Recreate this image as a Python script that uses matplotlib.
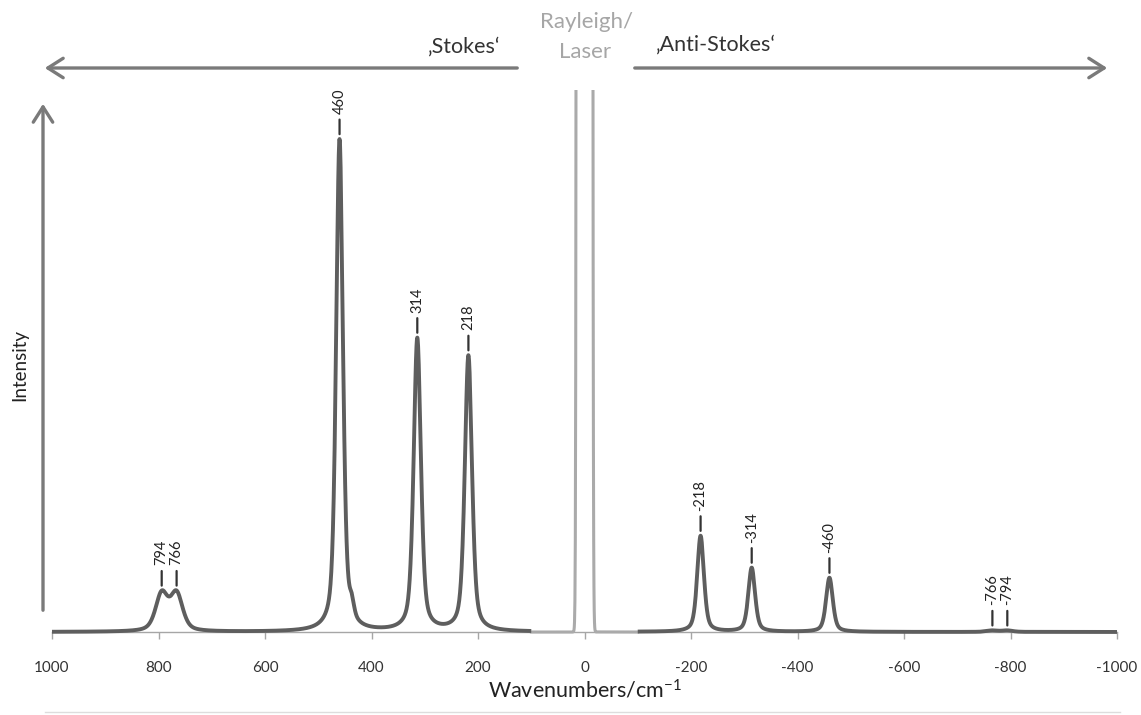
import numpy as np
import matplotlib
matplotlib.use("Agg")
import matplotlib.pyplot as plt
from matplotlib.patches import FancyArrowPatch, Rectangle
from matplotlib.lines import Line2D

plt.rcParams['font.family'] = ['Lato', 'DejaVu Sans']
plt.rcParams['mathtext.fontset'] = 'custom'
plt.rcParams['mathtext.rm'] = 'Lato'
plt.rcParams['mathtext.default'] = 'regular'
plt.rcParams['axes.unicode_minus'] = False

# ---------------- data ----------------
# Raman bands: position (cm-1), amplitude (460 band = 100), FWHM (cm-1)
stokes_pos = [794, 766, 460, 437, 314, 218]
stokes_amp = [7.5, 7.5, 100.0, 2.8, 59.5, 56.0]
stokes_fwhm = [27, 27, 15, 10, 16, 16]

anti_pos = [-218, -314, -460, -766, -794]
anti_amp = [19.5, 13.0, 11.0, 0.3, 0.3]
anti_fwhm = [15, 15, 15, 24, 24]

# Rayleigh / laser line (far off scale, clipped)
rayleigh_pos = [0]
rayleigh_amp = [4.0e6]
rayleigh_fwhm = [8.2]

label_pos = [794, 766, 460, 314, 218, -218, -314, -460, -766, -794]
label_text = ['794', '766', '460', '314', '218', '-218', '-314', '-460', '-766', '-794']

xtick_vals = [1000, 800, 600, 400, 200, 0, -200, -400, -600, -800, -1000]
xtick_text = ['1000', '800', '600', '400', '200', '0', '-200', '-400', '-600', '-800', '-1000']

ETA = 0.5  # Lorentzian fraction of the pseudo-Voigt band shape


def band(x, pos, amp, fwhm, eta):
    y = np.zeros_like(x)
    for p, a, w in zip(pos, amp, fwhm):
        g = w / 2.0
        s = w / 2.3548
        lor = g ** 2 / ((x - p) ** 2 + g ** 2)
        gau = np.exp(-(x - p) ** 2 / (2 * s ** 2))
        y += a * (eta * lor + (1 - eta) * gau)
    return y


W, H = 1141, 715
fig = plt.figure(figsize=(W / 100, H / 100), dpi=100)
ax = fig.add_axes([52 / W, 83 / H, (1117 - 52) / W, 542 / H])

x = np.linspace(-1000, 1000, 8001)
raman = band(x, stokes_pos + anti_pos, stokes_amp + anti_amp, stokes_fwhm + anti_fwhm, ETA)
ray = band(x, rayleigh_pos, rayleigh_amp, rayleigh_fwhm, 0.0)

curve_col = '#5e5e5e'
m_st = x >= 100
m_an = x <= -100
m_ra = (x > -100) & (x < 100)
ax.plot(x[m_st], raman[m_st], color=curve_col, lw=2.8, clip_on=False, zorder=4,
        solid_capstyle='butt')
ax.plot(x[m_an], raman[m_an], color=curve_col, lw=2.8, clip_on=False, zorder=4,
        solid_capstyle='butt')
rl, = ax.plot(x[m_ra], ray[m_ra], color='#aaaaaa', lw=2.2, zorder=3)
clip_rect = Rectangle((0, -0.05), 1, 1.05, transform=ax.transAxes, visible=False)
ax.add_patch(clip_rect)
rl.set_clip_path(clip_rect)

ax.set_xlim(1000, -1000)
ax.set_ylim(0, 542 / 4.92)

# peak labels
for p, t in zip(label_pos, label_text):
    yp = np.interp(p, x, raman)
    ax.annotate(t, xy=(p, yp), xytext=(0, 25), textcoords='offset pixels',
                rotation=90, ha='center', va='bottom', fontsize=10.5, color='#222222',
                arrowprops=dict(arrowstyle='-', color='#333333', lw=1.6,
                                shrinkA=2, shrinkB=3.5), annotation_clip=False)

# axes styling
for s in ['left', 'top', 'right']:
    ax.spines[s].set_visible(False)
ax.spines['bottom'].set_color('#a6a6a6')
ax.spines['bottom'].set_linewidth(1.0)
ax.set_yticks([])
ax.set_xticks(xtick_vals)
ax.set_xticklabels(xtick_text)
ax.tick_params(axis='x', direction='out', length=5, width=1, color='#a6a6a6',
               labelsize=11, labelcolor='#333333', pad=16)

ax.set_xlabel('Wavenumbers/cm$^{-1}$', fontsize=15.5, color='#222222')
ax.xaxis.set_label_coords(0.5, -58 / 542)
ax.xaxis.label.set_verticalalignment('center')
ax.set_ylabel('Intensity', fontsize=13.5, color='#222222')
ax.yaxis.set_label_coords((20 - 52) / 1065, (632 - 365) / 542)
ax.yaxis.label.set_verticalalignment('center')


def fpx(px, py):
    return (px / W, 1 - py / H)


arr_col = '#7a7a7a'
for a, b in [((520, 68), (42, 68)), ((632, 68), (1110, 68)), ((43, 613), (43, 101))]:
    fig.add_artist(FancyArrowPatch(fpx(*a), fpx(*b), transform=fig.transFigure,
                                   arrowstyle='->,head_length=0.55,head_width=0.35',
                                   mutation_scale=20, lw=2.4, color=arr_col))

fig.text(*fpx(500, 47), '\u201aStokes\u2018', ha='right', va='center', fontsize=15.5, color='#333333')
fig.text(*fpx(655, 45), '\u201aAnti-Stokes\u2018', ha='left', va='center', fontsize=15.5, color='#333333')
fig.text(*fpx(586, 22), 'Rayleigh/', ha='center', va='center', fontsize=16, color='#a6a6a6')
fig.text(*fpx(585, 52), 'Laser', ha='center', va='center', fontsize=16, color='#a6a6a6')

fig.add_artist(Line2D([45 / W, 1120 / W], [1 - 712 / H] * 2, transform=fig.transFigure,
                      color='#dddddd', lw=1))

fig.savefig('out.png', dpi=100)
